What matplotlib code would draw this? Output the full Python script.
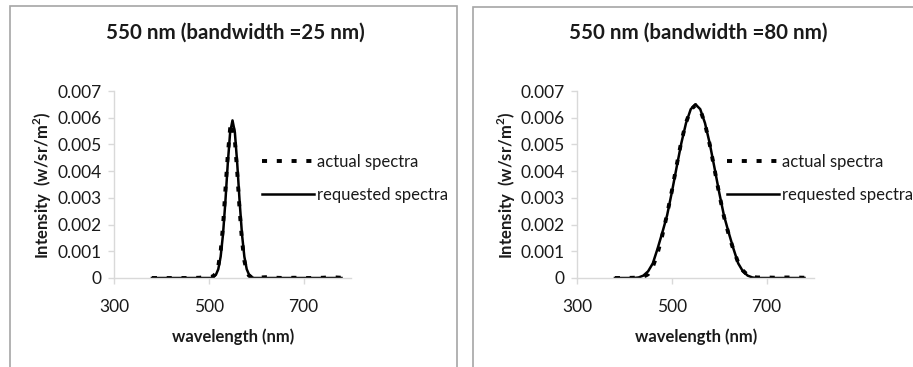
import matplotlib
matplotlib.use("Agg")
import matplotlib.pyplot as plt
from matplotlib.patches import Rectangle

plt.rcParams['font.family'] = ['Lato', 'DejaVu Sans']
plt.rcParams['mathtext.fontset'] = 'custom'
plt.rcParams['mathtext.rm'] = 'Lato'
plt.rcParams['mathtext.bf'] = 'Lato:bold'

TEXT = '#1a1a1a'
AXIS = '#d9d9d9'

# --- 25 nm bandwidth spectra ---
wl_25 = [380, 400, 420, 440, 460, 480, 490, 500, 505, 510, 515, 520, 525, 530,
         535, 540, 545, 550, 555, 560, 565, 570, 575, 580, 585, 590, 595, 600,
         610, 620, 640, 660, 680, 700, 720, 740, 760, 780]
actual_25 = [0, 0, 0, 0, 0, 0.00001, 0.00003, 0.00003, 0.00004, 0.00008, 0.00018,
             0.00045, 0.00100, 0.00195, 0.00330, 0.00460, 0.00560, 0.00580,
             0.00515, 0.00395, 0.00255, 0.00140, 0.00065, 0.00025, 0.00008,
             0.00004, 0.00003, 0.00003, 0.00002, 0.00003, 0.00001, 0, 0.00001,
             0, 0, 0.00001, 0.00003, 0.00001]
requested_25 = [0, 0, 0, 0, 0, 0, 0, 0, 0, 0.00004, 0.00012, 0.00033, 0.00080,
                0.00164, 0.00287, 0.00428, 0.00545, 0.00590, 0.00545, 0.00428,
                0.00287, 0.00164, 0.00080, 0.00033, 0.00012, 0.00004, 0, 0,
                0, 0, 0, 0, 0, 0, 0, 0, 0, 0]

# --- 80 nm bandwidth spectra ---
wl_80 = [380, 400, 420, 430, 440, 450, 460, 470, 480, 490, 500, 510, 520, 530,
         540, 550, 560, 570, 580, 590, 600, 610, 620, 630, 640, 650, 660, 670,
         680, 700, 720, 740, 760, 780]
actual_80 = [0, 0, 0.00001, 0.00001, 0.00004, 0.00014, 0.00042, 0.00092, 0.00160,
             0.00238, 0.00325, 0.00420, 0.00510, 0.00582, 0.00630, 0.00647,
             0.00630, 0.00577, 0.00500, 0.00408, 0.00315, 0.00230, 0.00163,
             0.00106, 0.00058, 0.00028, 0.00011, 0.00004, 0.00002, 0.00002,
             0.00001, 0.00002, 0.00002, 0.00001]
requested_80 = [0, 0, 0, 0.00002, 0.00009, 0.00025, 0.00055, 0.00110, 0.00170,
                0.00234, 0.00320, 0.00413, 0.00504, 0.00580, 0.00632, 0.00650,
                0.00632, 0.00580, 0.00504, 0.00413, 0.00320, 0.00234, 0.00170,
                0.00110, 0.00055, 0.00025, 0.00009, 0.00002, 0, 0, 0, 0, 0, 0]

titles = ['550 nm (bandwidth =25 nm)', '550 nm (bandwidth =80 nm)']
x_ticks = [300, 500, 700]
y_ticks = [0, 0.001, 0.002, 0.003, 0.004, 0.005, 0.006, 0.007]
y_ticklabels = ['0', '0.001', '0.002', '0.003', '0.004', '0.005', '0.006', '0.007']
legend_labels = ['actual spectra', 'requested spectra']

W, H = 913, 367
fig = plt.figure(figsize=(W / 100, H / 100), dpi=100)

# chart frames
for x0, x1, y0 in [(10, 457, 6), (473, 930, 7)]:
    fig.patches.append(Rectangle((x0 / W, -0.05), (x1 - x0) / W, 1.05 - y0 / H,
                                 transform=fig.transFigure, fill=False,
                                 edgecolor='#a6a6a6', linewidth=1.2))

panels = [
    dict(left=114, wl=wl_25, act=actual_25, req=requested_25, title=titles[0],
         tx=235, xlab=233, ylab=43, leg=262),
    dict(left=577, wl=wl_80, act=actual_80, req=requested_80, title=titles[1],
         tx=698, xlab=696, ylab=507, leg=727),
]

for p in panels:
    ax = fig.add_axes([p['left'] / W, (H - 278) / H, 237 / W, 187 / H])
    ax.plot(p['wl'], p['act'], color='black', lw=2.8, linestyle=(0, (1.3, 2.5)),
            label=legend_labels[0])
    ax.plot(p['wl'], p['req'], color='black', lw=1.8, label=legend_labels[1])
    ax.set_xlim(300, 800)
    ax.set_ylim(0, 0.007)
    ax.set_xticks(x_ticks)
    ax.set_yticks(y_ticks)
    ax.set_yticklabels(y_ticklabels)
    for s in ['top', 'right']:
        ax.spines[s].set_visible(False)
    for s in ['left', 'bottom']:
        ax.spines[s].set_color(AXIS)
        ax.spines[s].set_linewidth(1.0)
    ax.tick_params(axis='both', colors=AXIS, labelcolor=TEXT, labelsize=12.5,
                   length=4, width=1.0)
    ax.tick_params(axis='x', pad=11)
    ax.tick_params(axis='y', pad=5)
    ax.patch.set_alpha(0)

    fig.text(p['tx'] / W, 1 - 33 / H, p['title'], ha='center', va='center',
             fontsize=14.8, fontweight='bold', color=TEXT)
    fig.text(p['xlab'] / W, 1 - 337 / H, 'wavelength (nm)', ha='center',
             va='center', fontsize=12, fontweight='bold', color=TEXT)
    fig.text(p['ylab'] / W, 1 - 185 / H, r'Intensity  (w/sr/m$^{\mathbf{2}}$)',
             ha='center', va='center', rotation=90, fontsize=12,
             fontweight='bold', color=TEXT)
    ax.legend(loc='upper left', bbox_to_anchor=(p['leg'] / W, 1 - 154 / H),
              bbox_transform=fig.transFigure, frameon=False, fontsize=12,
              handlelength=3.1, handletextpad=0.2, borderpad=0,
              borderaxespad=0, labelspacing=1.0, labelcolor=TEXT)

fig.savefig('out.png', dpi=100)
